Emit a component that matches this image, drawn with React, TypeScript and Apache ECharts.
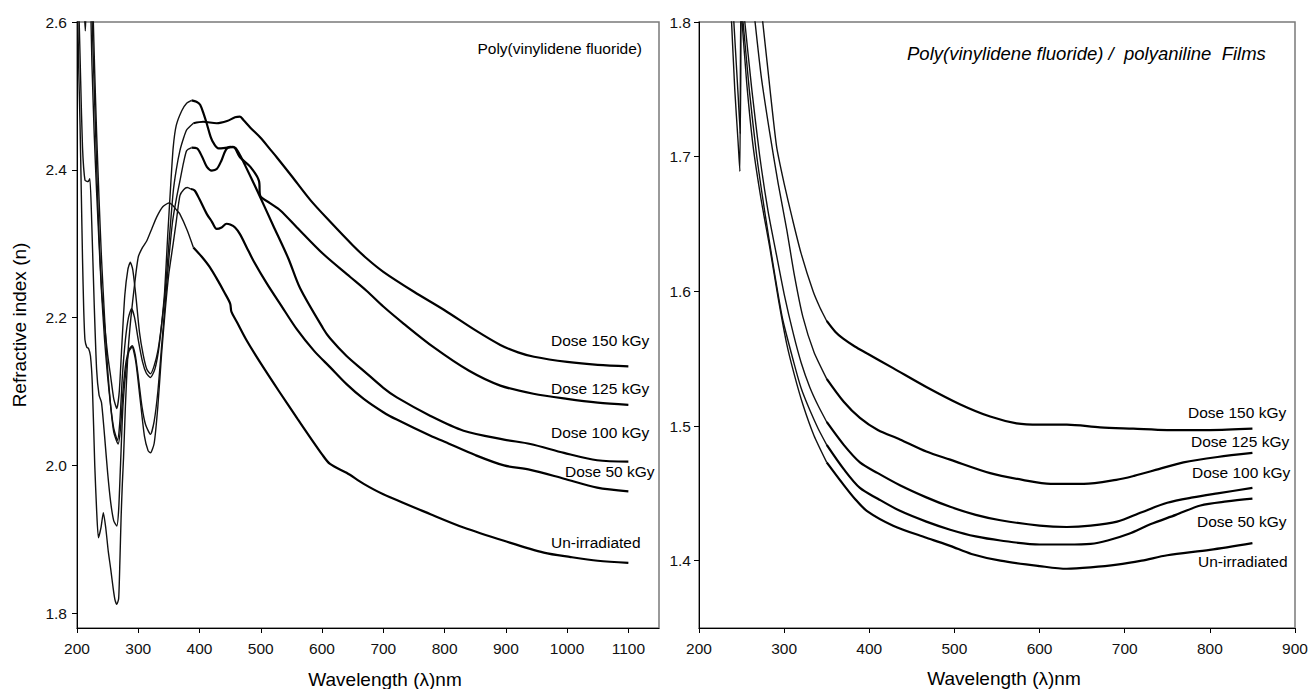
import React, { useEffect, useRef } from "react";
import * as echarts from "echarts";

// ---------------- Left panel: Poly(vinylidene fluoride) ----------------
const LEFT_X_TICKS = [200, 300, 400, 500, 600, 700, 800, 900, 1000, 1100];
const LEFT_Y_TICKS = [1.8, 2.0, 2.2, 2.4, 2.6];

const L_150: number[][] = [
  [224, 2.62], [227, 2.54], [230, 2.46], [233, 2.38], [236, 2.31], [240, 2.24], [245, 2.19], [250, 2.15],
  [255, 2.12], [260, 2.09], [265, 2.077], [269, 2.1], [273, 2.16], [278, 2.23], [283, 2.265], [287, 2.275],
  [291, 2.265], [296, 2.23], [302, 2.18], [308, 2.15], [314, 2.13], [320, 2.124], [326, 2.135], [332, 2.155],
  [338, 2.19], [344, 2.235], [350, 2.3], [357, 2.37], [362, 2.4], [368, 2.426], [374, 2.443], [379, 2.454],
  [390, 2.463], [406, 2.465], [428, 2.463], [445, 2.466], [458, 2.471], [466, 2.472], [472, 2.467], [483, 2.457],
  [500, 2.443], [515, 2.428], [526, 2.417], [550, 2.392], [581, 2.359], [613, 2.33], [650, 2.298], [673, 2.28],
  [700, 2.262], [750, 2.235], [800, 2.21], [850, 2.183], [891, 2.163], [920, 2.153], [946, 2.147], [1000, 2.14],
  [1050, 2.136], [1100, 2.134],
];
const L_125: number[][] = [
  [211, 2.63], [213.5, 2.588], [216, 2.63], [221, 2.63], [224.5, 2.54], [228, 2.45], [232, 2.37], [236, 2.3],
  [240, 2.235], [245, 2.17], [250, 2.12], [255, 2.08], [260, 2.05], [266, 2.034], [270, 2.06], [274, 2.12],
  [279, 2.17], [284, 2.2], [289, 2.212], [294, 2.2], [300, 2.17], [307, 2.14], [313, 2.125], [320, 2.119],
  [327, 2.13], [333, 2.155], [338, 2.19], [343, 2.235], [348, 2.31], [353, 2.38], [357, 2.43], [362, 2.46],
  [371, 2.48], [379, 2.49], [387, 2.494], [395, 2.492], [401, 2.488], [407, 2.475], [412, 2.462], [418, 2.445],
  [423, 2.436], [431, 2.429], [445, 2.43], [455, 2.431], [466, 2.417], [483, 2.404], [497, 2.385], [499, 2.365],
  [515, 2.355], [532, 2.345], [559, 2.322], [602, 2.286], [646, 2.255], [673, 2.236], [700, 2.215], [733, 2.192],
  [782, 2.16], [840, 2.128], [891, 2.108], [945, 2.097], [1000, 2.09], [1050, 2.085], [1100, 2.082],
];
const L_100: number[][] = [
  [226, 2.62], [229, 2.53], [232, 2.45], [236, 2.36], [240, 2.28], [245, 2.2], [250, 2.13], [255, 2.08],
  [260, 2.045], [267, 2.029], [271, 2.05], [275, 2.1], [280, 2.14], [285, 2.157], [290, 2.162], [295, 2.15],
  [300, 2.12], [306, 2.08], [312, 2.055], [320, 2.042], [326, 2.06], [332, 2.1], [338, 2.16], [344, 2.22],
  [350, 2.28], [356, 2.33], [362, 2.36], [368, 2.385], [374, 2.41], [379, 2.426], [387, 2.43], [396, 2.429],
  [404, 2.418], [412, 2.404], [420, 2.399], [428, 2.401], [436, 2.413], [443, 2.427], [450, 2.431], [458, 2.43],
  [466, 2.42], [475, 2.405], [494, 2.372], [520, 2.325], [545, 2.28], [564, 2.24], [602, 2.185], [613, 2.172],
  [640, 2.148], [668, 2.128], [700, 2.105], [722, 2.092], [777, 2.067], [831, 2.047], [897, 2.035], [940, 2.029],
  [995, 2.017], [1049, 2.007], [1100, 2.005],
];
const L_50: number[][] = [
  [203, 2.62], [206, 2.52], [209, 2.43], [213, 2.386], [218, 2.384], [221, 2.388], [224, 2.33], [228, 2.22],
  [232, 2.13], [236, 2.095], [240, 2.085], [245, 2.04], [250, 1.99], [255, 1.95], [260, 1.925], [265, 1.918],
  [268, 1.94], [271, 2.0], [275, 2.08], [280, 2.13], [285, 2.155], [290, 2.16], [296, 2.14], [303, 2.09],
  [310, 2.04], [316, 2.02], [320, 2.017], [326, 2.03], [332, 2.08], [338, 2.15], [344, 2.21], [350, 2.26],
  [357, 2.3], [362, 2.33], [368, 2.365], [374, 2.373], [380, 2.376], [386, 2.374], [392, 2.372], [400, 2.36],
  [412, 2.34], [420, 2.33], [428, 2.32], [436, 2.322], [444, 2.327], [450, 2.326], [458, 2.322], [466, 2.313],
  [477, 2.295], [488, 2.277], [510, 2.246], [532, 2.218], [559, 2.184], [587, 2.155], [613, 2.133], [640, 2.11],
  [668, 2.09], [700, 2.072], [722, 2.062], [777, 2.04], [800, 2.032], [850, 2.014], [897, 2.0], [940, 1.994],
  [995, 1.982], [1049, 1.97], [1100, 1.965],
];
const L_0: number[][] = [
  [201, 2.62], [203, 2.53], [205, 2.46], [207, 2.37], [209, 2.28], [211, 2.21], [213, 2.17], [216, 2.16],
  [219, 2.158], [222, 2.148], [225, 2.11], [229, 2.0], [232, 1.94], [235, 1.902], [239, 1.915], [243, 1.936],
  [247, 1.915], [251, 1.884], [255, 1.86], [259, 1.834], [262, 1.818], [265, 1.812], [268, 1.82], [270, 1.87],
  [272, 1.93], [274, 1.975], [276, 2.011], [279, 2.08], [283, 2.15], [288, 2.2], [294, 2.245], [300, 2.282],
  [307, 2.295], [314, 2.304], [322, 2.32], [330, 2.336], [340, 2.35], [350, 2.355], [356, 2.352], [363, 2.345],
  [368, 2.34], [380, 2.318], [390, 2.295], [404, 2.282], [417, 2.268], [430, 2.25], [440, 2.235], [450, 2.219],
  [452, 2.208], [461, 2.194], [477, 2.169], [500, 2.138], [530, 2.1], [560, 2.063], [600, 2.015], [613, 2.002],
  [640, 1.99], [668, 1.975], [700, 1.961], [777, 1.934], [831, 1.916], [897, 1.898], [962, 1.882], [1006, 1.876],
  [1050, 1.871], [1100, 1.868],
];

// ---------------- Right panel: PVDF / polyaniline films ----------------
const RIGHT_X_TICKS = [200, 300, 400, 500, 600, 700, 800, 900];
const RIGHT_Y_TICKS = [1.4, 1.5, 1.6, 1.7, 1.8];

const R_150: number[][] = [
  [274, 1.805], [280, 1.77], [291, 1.708], [300, 1.68], [310, 1.653], [320, 1.628], [334, 1.6], [342, 1.588],
  [350, 1.578], [360, 1.57], [369, 1.565], [383, 1.559], [397, 1.554], [428, 1.543], [467, 1.529], [507, 1.516],
  [542, 1.507], [573, 1.502], [600, 1.501], [632, 1.501], [671, 1.499], [710, 1.498], [750, 1.497], [800, 1.497],
  [850, 1.498],
];
const R_125: number[][] = [
  [265, 1.805], [273, 1.76], [283, 1.718], [293, 1.68], [303, 1.646], [312, 1.612], [322, 1.581], [335, 1.555],
  [350, 1.535], [370, 1.518], [389, 1.506], [410, 1.497], [436, 1.49], [467, 1.481], [495, 1.475], [542, 1.465],
  [580, 1.46], [613, 1.457], [652, 1.457], [690, 1.46], [711, 1.463], [740, 1.468], [769, 1.473], [809, 1.477],
  [850, 1.48],
];
const R_100: number[][] = [
  [253, 1.805], [262, 1.75], [271, 1.702], [281, 1.66], [291, 1.627], [300, 1.598], [311, 1.568], [320, 1.547],
  [330, 1.529], [340, 1.515], [350, 1.503], [370, 1.486], [389, 1.473], [410, 1.465], [436, 1.456], [467, 1.447],
  [495, 1.44], [525, 1.434], [554, 1.43], [600, 1.426], [632, 1.425], [660, 1.426], [691, 1.429], [720, 1.436],
  [750, 1.443], [780, 1.447], [809, 1.45], [850, 1.454],
];
const R_50: number[][] = [
  [240, 1.81], [246, 1.745], [248.5, 1.717], [249.5, 1.81], [251, 1.805], [259, 1.75], [267.5, 1.702],
  [277, 1.66], [287, 1.62], [298, 1.58], [311, 1.548], [320, 1.528], [330, 1.512], [340, 1.498], [350, 1.486],
  [370, 1.468], [389, 1.454], [410, 1.446], [436, 1.437], [467, 1.429], [495, 1.423], [525, 1.418], [554, 1.415],
  [600, 1.412], [632, 1.412], [660, 1.4125], [680, 1.415], [705, 1.42], [730, 1.427], [760, 1.434], [789, 1.441],
  [820, 1.444], [850, 1.446],
];
const R_0: number[][] = [
  [237.5, 1.81], [242, 1.75], [246, 1.71], [248, 1.689], [249, 1.81], [250, 1.805], [256, 1.755], [263.5, 1.708],
  [273, 1.668], [283, 1.633], [293, 1.595], [303, 1.561], [312, 1.538], [322, 1.516], [335, 1.493], [350, 1.473],
  [369, 1.457], [383, 1.446], [397, 1.437], [428, 1.426], [467, 1.417], [495, 1.411], [520, 1.405], [554, 1.4],
  [600, 1.396], [632, 1.394], [660, 1.395], [691, 1.397], [720, 1.4], [750, 1.404], [800, 1.408], [850, 1.413],
];

const LEFT_CURVES = [L_150, L_125, L_100, L_50, L_0];
const RIGHT_CURVES = [R_150, R_125, R_100, R_50, R_0];
const CURVE_LABELS = ["Dose 150 kGy", "Dose 125 kGy", "Dose 100 kGy", "Dose 50 kGy", "Un-irradiated"];

const FONT = '"Liberation Sans", Arial, Helvetica, sans-serif';

function splitSeries(data: number[][], split: number, axisIndex: number, name: string) {
  let i = data.findIndex((p) => p[0] >= split);
  if (i < 0) i = data.length - 1;
  const thin = data.slice(0, i + 1);
  const thick = data.slice(i);
  const base = {
    type: "line",
    xAxisIndex: axisIndex,
    yAxisIndex: axisIndex,
    showSymbol: false,
    symbol: "none",
    silent: true,
    clip: true,
  };
  return [
    { ...base, name: name + " uv", data: thin, smooth: 0.2, lineStyle: { color: "#111", width: 1.4 } },
    { ...base, name, data: thick, smooth: 0.3, lineStyle: { color: "#000", width: 2.2 } },
  ];
}

function makeAxisX(gridIndex: number, min: number, max: number, ticks: number[]) {
  return {
    type: "value",
    gridIndex,
    min,
    max,
    axisLine: { show: true, onZero: false, lineStyle: { color: "#000", width: 1 } },
    axisTick: { show: true, inside: false, length: 5, customValues: ticks, lineStyle: { color: "#000", width: 1 } },
    axisLabel: {
      customValues: ticks,
      margin: 12,
      color: "#111",
      fontSize: 15.5,
      fontFamily: FONT,
      formatter: (v: number) => String(Math.round(v)),
    },
    splitLine: { show: false },
  };
}

function makeAxisY(gridIndex: number, min: number, max: number, ticks: number[], margin: number) {
  return {
    type: "value",
    gridIndex,
    min,
    max,
    axisLine: { show: true, onZero: false, lineStyle: { color: "#000", width: 1 } },
    axisTick: { show: true, inside: false, length: 5, customValues: ticks, lineStyle: { color: "#000", width: 1 } },
    axisLabel: {
      customValues: ticks,
      margin,
      color: "#111",
      fontSize: 15.5,
      fontFamily: FONT,
      formatter: (v: number) => v.toFixed(1),
    },
    splitLine: { show: false },
  };
}

function txt(text: string, x: number, y: number, size: number, align = "left", italic = false, rotation = 0) {
  return {
    type: "text",
    x,
    y,
    rotation,
    silent: true,
    style: {
      text,
      fill: "#000",
      font: `${italic ? "italic " : ""}${size}px ${FONT}`,
      align,
      verticalAlign: "middle",
      textAlign: align,
      textVerticalAlign: "middle",
    },
  };
}

const LEFT_LABEL_POS = [
  [551, 340], [551, 388], [551, 432], [565, 471], [551, 542],
];
const RIGHT_LABEL_POS = [
  [1188, 412], [1191, 441], [1192, 472], [1197, 521], [1198, 561],
];

export default function App() {
  const ref = useRef<HTMLDivElement>(null);
  useEffect(() => {
    if (!ref.current) return;
    const chart = echarts.init(ref.current, null, { renderer: "svg" });
    const series: any[] = [];
    LEFT_CURVES.forEach((c, k) => series.push(...splitSeries(c, 385, 0, "L " + CURVE_LABELS[k])));
    RIGHT_CURVES.forEach((c, k) => series.push(...splitSeries(c, 345, 1, "R " + CURVE_LABELS[k])));

    const graphics: any[] = [];
    CURVE_LABELS.forEach((t, k) => {
      graphics.push(txt(t, LEFT_LABEL_POS[k][0], LEFT_LABEL_POS[k][1], 15.5));
      graphics.push(txt(t, RIGHT_LABEL_POS[k][0], RIGHT_LABEL_POS[k][1], 15.5));
    });
    graphics.push(txt("Poly(vinylidene fluoride)", 642, 48, 15.5, "right"));
    graphics.push(txt("Poly(vinylidene fluoride) /  polyaniline  Films", 907, 53, 18.5, "left", true));
    graphics.push(txt("Wavelength (\u03bb)nm", 385, 679, 19, "center"));
    graphics.push(txt("Wavelength (\u03bb)nm", 1004, 678, 19, "center"));
    graphics.push(txt("Refractive index (n)", 19, 325, 19, "center", false, Math.PI / 2));

    chart.setOption({
      animation: false,
      backgroundColor: "#fff",
      grid: [
        { left: 77, right: 652, top: 22, bottom: 61, show: true, borderColor: "#7a7a7a", borderWidth: 1.5, backgroundColor: "transparent" },
        { left: 699, right: 16, top: 22, bottom: 61, show: true, borderColor: "#7a7a7a", borderWidth: 1.5, backgroundColor: "transparent" },
      ],
      xAxis: [makeAxisX(0, 200, 1150, LEFT_X_TICKS), makeAxisX(1, 200, 900, RIGHT_X_TICKS)],
      yAxis: [makeAxisY(0, 1.78, 2.6, LEFT_Y_TICKS, 10), makeAxisY(1, 1.35, 1.8, RIGHT_Y_TICKS, 8)],
      series,
      graphic: graphics,
    });
    return () => chart.dispose();
  }, []);
  return (
    <div
      ref={ref}
      style={{ position: "absolute", left: 0, top: 0, width: 1311, height: 689, background: "#fff" }}
    />
  );
}
